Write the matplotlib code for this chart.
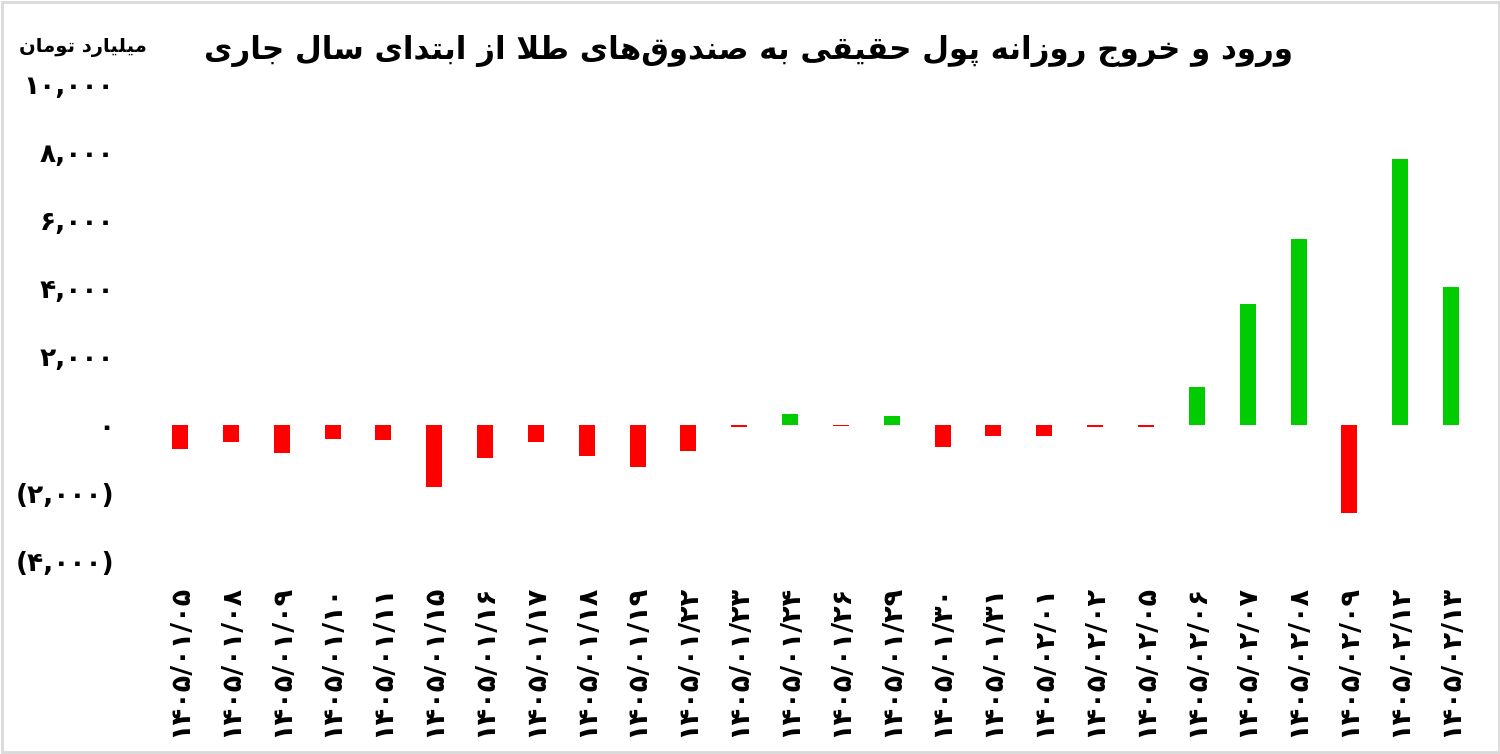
import matplotlib
matplotlib.use("Agg")
import matplotlib.pyplot as plt
from matplotlib.patches import Rectangle
from matplotlib.ticker import FuncFormatter

# data (billion toman)
dates = ['۱۴۰۵/۰۱/۰۵', '۱۴۰۵/۰۱/۰۸', '۱۴۰۵/۰۱/۰۹', '۱۴۰۵/۰۱/۱۰', '۱۴۰۵/۰۱/۱۱',
         '۱۴۰۵/۰۱/۱۵', '۱۴۰۵/۰۱/۱۶', '۱۴۰۵/۰۱/۱۷', '۱۴۰۵/۰۱/۱۸', '۱۴۰۵/۰۱/۱۹',
         '۱۴۰۵/۰۱/۲۲', '۱۴۰۵/۰۱/۲۳', '۱۴۰۵/۰۱/۲۴', '۱۴۰۵/۰۱/۲۶', '۱۴۰۵/۰۱/۲۹',
         '۱۴۰۵/۰۱/۳۰', '۱۴۰۵/۰۱/۳۱', '۱۴۰۵/۰۲/۰۱', '۱۴۰۵/۰۲/۰۲', '۱۴۰۵/۰۲/۰۵',
         '۱۴۰۵/۰۲/۰۶', '۱۴۰۵/۰۲/۰۷', '۱۴۰۵/۰۲/۰۸', '۱۴۰۵/۰۲/۰۹', '۱۴۰۵/۰۲/۱۲',
         '۱۴۰۵/۰۲/۱۳']
net_flow = [-710, -500, -820, -410, -460, -1840, -970, -505, -925, -1240,
            -770, -70, 300, -30, 260, -660, -330, -330, -70, -60,
            1090, 3550, 5430, -2590, 7790, 4035]
y_ticks = [-4000, -2000, 0, 2000, 4000, 6000, 8000, 10000]

title = 'ورود و خروج روزانه پول حقیقی به صندوق\u200cهای طلا از ابتدای سال جاری'
unit = 'میلیارد تومان'

# matplotlib has no arabic shaping, so map letters to presentation forms
# (isolated, final, initial, medial)
FORMS = {
    'ا': ('\uFE8D', '\uFE8E', None, None),
    'ب': ('\uFE8F', '\uFE90', '\uFE91', '\uFE92'),
    'پ': ('\uFB56', '\uFB57', '\uFB58', '\uFB59'),
    'ت': ('\uFE95', '\uFE96', '\uFE97', '\uFE98'),
    'ج': ('\uFE9D', '\uFE9E', '\uFE9F', '\uFEA0'),
    'ح': ('\uFEA1', '\uFEA2', '\uFEA3', '\uFEA4'),
    'خ': ('\uFEA5', '\uFEA6', '\uFEA7', '\uFEA8'),
    'د': ('\uFEA9', '\uFEAA', None, None),
    'ر': ('\uFEAD', '\uFEAE', None, None),
    'ز': ('\uFEAF', '\uFEB0', None, None),
    'س': ('\uFEB1', '\uFEB2', '\uFEB3', '\uFEB4'),
    'ص': ('\uFEB9', '\uFEBA', '\uFEBB', '\uFEBC'),
    'ط': ('\uFEC1', '\uFEC2', '\uFEC3', '\uFEC4'),
    'ق': ('\uFED5', '\uFED6', '\uFED7', '\uFED8'),
    'ل': ('\uFEDD', '\uFEDE', '\uFEDF', '\uFEE0'),
    'م': ('\uFEE1', '\uFEE2', '\uFEE3', '\uFEE4'),
    'ن': ('\uFEE5', '\uFEE6', '\uFEE7', '\uFEE8'),
    'ه': ('\uFEE9', '\uFEEA', '\uFEEB', '\uFEEC'),
    'و': ('\uFEED', '\uFEEE', None, None),
    'ی': ('\uFBFC', '\uFBFD', '\uFBFE', '\uFBFF'),
}


def shape(text):
    out = []
    i = 0
    n = len(text)
    while i < n:
        c = text[i]
        if c not in FORMS:
            if c != '\u200c':
                out.append(c)
            i += 1
            continue
        prev = text[i - 1] if i > 0 else None
        nxt = text[i + 1] if i + 1 < n else None
        prev_conn = prev in FORMS and FORMS[prev][2] is not None
        if c == 'ل' and nxt == 'ا':
            out.append('\uFEFC' if prev_conn else '\uFEFB')
            i += 2
            continue
        next_conn = FORMS[c][2] is not None and nxt in FORMS
        iso, fin, ini, med = FORMS[c]
        if prev_conn and next_conn:
            out.append(med)
        elif prev_conn:
            out.append(fin)
        elif next_conn:
            out.append(ini)
        else:
            out.append(iso)
        i += 1
    return ''.join(reversed(out))


fa_digits = str.maketrans('0123456789', '۰۱۲۳۴۵۶۷۸۹')


def fa_tick(v, pos):
    s = f'{abs(int(v)):,}'.translate(fa_digits)
    return f'({s})' if v < 0 else s


plt.rcParams['font.family'] = ['DejaVu Sans']
plt.rcParams['font.weight'] = 'bold'

fig = plt.figure(figsize=(15, 7.54), dpi=100)
ax = fig.add_axes([0.1031, 0.2560, 0.8812, 0.6330])

colors = ['#00CC00' if v >= 0 else '#FF0000' for v in net_flow]
x = range(len(net_flow))
ax.bar(x, net_flow, width=0.315, color=colors)

ax.set_xlim(-0.5, len(net_flow) - 0.5)
ax.set_ylim(-4000, 10000)
ax.set_yticks(y_ticks)
ax.yaxis.set_major_formatter(FuncFormatter(fa_tick))
ax.set_xticks(list(x))
ax.set_xticklabels(dates, rotation=90, fontsize=19.5, fontweight='bold')
ax.tick_params(axis='x', length=0, pad=17)
ax.tick_params(axis='y', length=0, pad=29, labelsize=19)
for lab in ax.get_yticklabels():
    lab.set_fontweight('bold')
for side in ax.spines.values():
    side.set_visible(False)

fig.text(0.862, 0.932, shape(title), ha='right', va='center',
         fontsize=22.2, fontweight='bold')
fig.text(0.055, 0.937, shape(unit), ha='center', va='center',
         fontsize=14, fontweight='bold')

# thin grey frame around the picture
fig.patches.append(Rectangle((0.001, 0.002), 0.998, 0.996, transform=fig.transFigure,
                             fill=False, edgecolor='#d9d9d9', linewidth=2))

fig.savefig('out.png', dpi=100)
